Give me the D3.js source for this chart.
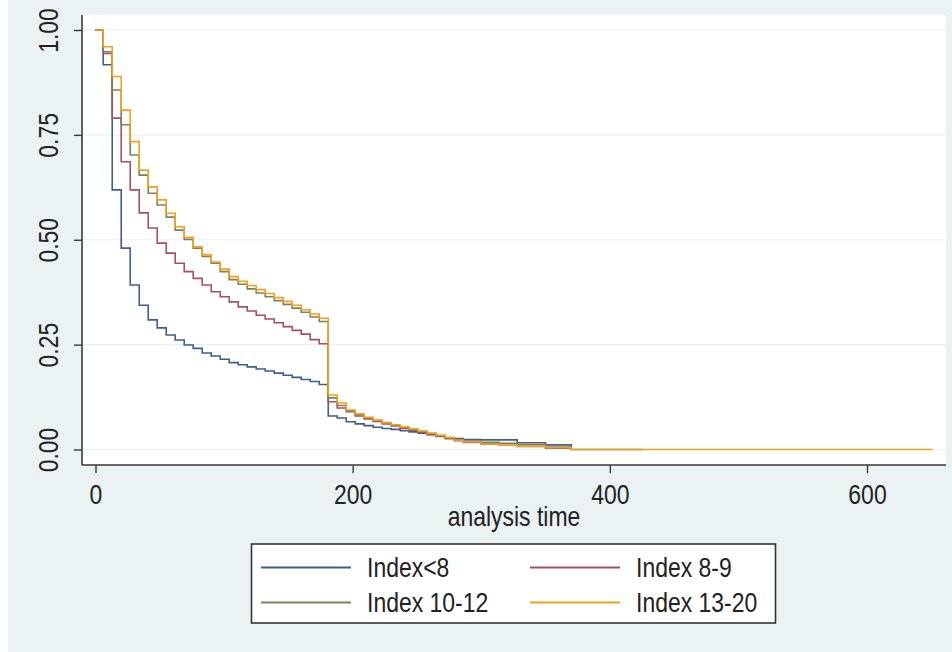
<!DOCTYPE html>
<html>
<head>
<meta charset="utf-8">
<script src="https://cdn.jsdelivr.net/npm/d3@7"></script>
<style>
  html, body { margin: 0; padding: 0; background: #ffffff; }
  svg { display: block; }
  text { font-family: "Liberation Sans", Arial, "Noto Sans", sans-serif; fill: #222; }
</style>
</head>
<body>
<svg id="chart" width="952" height="652"></svg>
<script>
// Kaplan-Meier survival estimates by index group (step functions)
const times = [0, 6, 13, 20, 27, 34, 41, 48, 55, 62,
  69, 76, 83, 90, 97, 104, 111, 118, 125, 132,
  139, 146, 153, 160, 167, 174, 181, 188, 195, 202,
  209, 216, 223, 230, 237, 244, 251, 258, 265, 272,
  279, 286, 300, 314, 328, 350, 370];

const indexLt8 = [1.000, .917, .619, .480, .392, .344, .309, .290, .273, .261,
  .249, .241, .230, .223, .215, .207, .202, .197, .192, .187,
  .182, .177, .172, .167, .162, .155, .080, .075, .066, .061,
  .057, .053, .050, .048, .045, .042, .039, .035, .032, .028,
  .026, .024, .023, .023, .016, .011, 0];

const index8to9 = [1.000, .944, .790, .686, .619, .564, .528, .492, .468, .444,
  .424, .408, .392, .376, .364, .352, .340, .330, .320, .311,
  .302, .293, .284, .275, .262, .252, .114, .099, .090, .080,
  .073, .067, .061, .056, .051, .046, .041, .036, .031, .026,
  .021, .017, .013, .010, .007, .003, 0];

const index10to12 = [1.000, .948, .857, .774, .702, .654, .611, .583, .554, .523,
  .501, .480, .460, .444, .424, .405, .394, .383, .373, .364,
  .355, .346, .337, .327, .316, .305, .123, .105, .092, .083,
  .075, .069, .063, .058, .053, .048, .043, .038, .033, .028,
  .024, .020, .017, .015, .012, .006, 0];

const index13to20 = [1.000, .960, .889, .809, .734, .666, .626, .595, .563, .531,
  .506, .483, .464, .447, .430, .412, .401, .391, .381, .372,
  .362, .353, .344, .333, .323, .313, .130, .111, .094, .085,
  .077, .070, .064, .059, .054, .049, .044, .039, .034, .029,
  .022, .018, .013, .010, .008, .004, 0];

// last analysis time reached by each group
const lastTime = [370, 370, 426, 651];

const seriesNames = ["Index<8", "Index 8-9", "Index 10-12", "Index 13-20"];
const seriesValues = [indexLt8, index8to9, index10to12, index13to20];
const seriesColors = ["#3f5f86", "#a84f61", "#7d8158", "#f0a01e"];

const xTicks = [0, 200, 400, 600];
const yTicks = [0, 0.25, 0.5, 0.75, 1];
const xTitle = "analysis time";

const FONT = 28;      // text size
const NARROW = 0.82;  // horizontal squeeze for a narrow face

const svg = d3.select("#chart");
const W = 952, H = 652;

// graph background
svg.append("rect").attr("x", 8).attr("y", 0).attr("width", W - 8).attr("height", H).attr("fill", "#eaf2f3");

const plot = { left: 82, right: 946, top: 15, bottom: 465 };
svg.append("rect")
  .attr("x", plot.left).attr("y", plot.top)
  .attr("width", plot.right - plot.left).attr("height", plot.bottom - plot.top)
  .attr("fill", "#ffffff");

const x = d3.scaleLinear().domain([0, 600]).range([95.5, 867]);
const y = d3.scaleLinear().domain([0, 1]).range([449.5, 30]);

// horizontal grid lines
svg.append("g").selectAll("line").data(yTicks).join("line")
  .attr("x1", plot.left).attr("x2", plot.right)
  .attr("y1", d => y(d)).attr("y2", d => y(d))
  .attr("stroke", "#eceff0").attr("stroke-width", 1.2);

// survival curves
const line = d3.line().curve(d3.curveStepAfter).x(d => x(d[0])).y(d => y(d[1]));
seriesValues.forEach((vals, i) => {
  const pts = times.map((t, j) => [t, vals[j]]);
  pts.push([lastTime[i], vals[vals.length - 1]]);
  svg.append("path")
    .datum(pts)
    .attr("d", line)
    .attr("fill", "none")
    .attr("stroke", seriesColors[i])
    .attr("stroke-width", 1.6);
});

// y axis
const yAxis = d3.axisLeft(y).tickValues(yTicks).tickFormat(d3.format(".2f")).tickSize(8).tickPadding(0);
const gy = svg.append("g").attr("transform", `translate(${plot.left},0)`).call(yAxis);
gy.select(".domain").attr("d", `M0,${plot.top}V${plot.bottom}`).attr("stroke", "#3a3a3a").attr("stroke-width", 1.6);
gy.selectAll(".tick line").attr("stroke", "#3a3a3a").attr("stroke-width", 1.4);
gy.selectAll(".tick text")
  .attr("x", 0).attr("y", 0).attr("dy", 0)
  .attr("transform", `translate(-24,0) rotate(-90) scale(${NARROW},1)`)
  .attr("text-anchor", "middle")
  .style("font-size", FONT + "px")
  .style("fill", "#222");

// x axis
const xAxis = d3.axisBottom(x).tickValues(xTicks).tickFormat(d3.format("d")).tickSize(8).tickPadding(0);
const gx = svg.append("g").attr("transform", `translate(0,${plot.bottom})`).call(xAxis);
gx.select(".domain").attr("d", `M${plot.left},0H${plot.right}`).attr("stroke", "#3a3a3a").attr("stroke-width", 1.6);
gx.selectAll(".tick line").attr("stroke", "#3a3a3a").attr("stroke-width", 1.4);
gx.selectAll(".tick text")
  .attr("x", 0).attr("y", 0).attr("dy", 0)
  .attr("transform", `translate(0,39) scale(${NARROW},1)`)
  .style("font-size", FONT + "px")
  .style("fill", "#222");

svg.append("text")
  .attr("transform", `translate(${(plot.left + plot.right) / 2},526) scale(${NARROW},1)`)
  .attr("text-anchor", "middle")
  .style("font-size", FONT + "px")
  .text(xTitle);

// legend
const lg = svg.append("g");
lg.append("rect")
  .attr("x", 251.5).attr("y", 544).attr("width", 524).attr("height", 79)
  .attr("fill", "#ffffff").attr("stroke", "#333").attr("stroke-width", 1.6);
const legendPos = [
  { lx: 261, ly: 567.5 }, { lx: 530, ly: 567.5 },
  { lx: 261, ly: 602.5 }, { lx: 530, ly: 602.5 }
];
seriesNames.forEach((name, i) => {
  const p = legendPos[i];
  lg.append("line")
    .attr("x1", p.lx).attr("x2", p.lx + 90)
    .attr("y1", p.ly).attr("y2", p.ly)
    .attr("stroke", seriesColors[i]).attr("stroke-width", 1.8);
  lg.append("text")
    .attr("transform", `translate(${p.lx + 106},${p.ly + 9}) scale(${NARROW},1)`)
    .style("font-size", FONT + "px")
    .text(name);
});
</script>
</body>
</html>
